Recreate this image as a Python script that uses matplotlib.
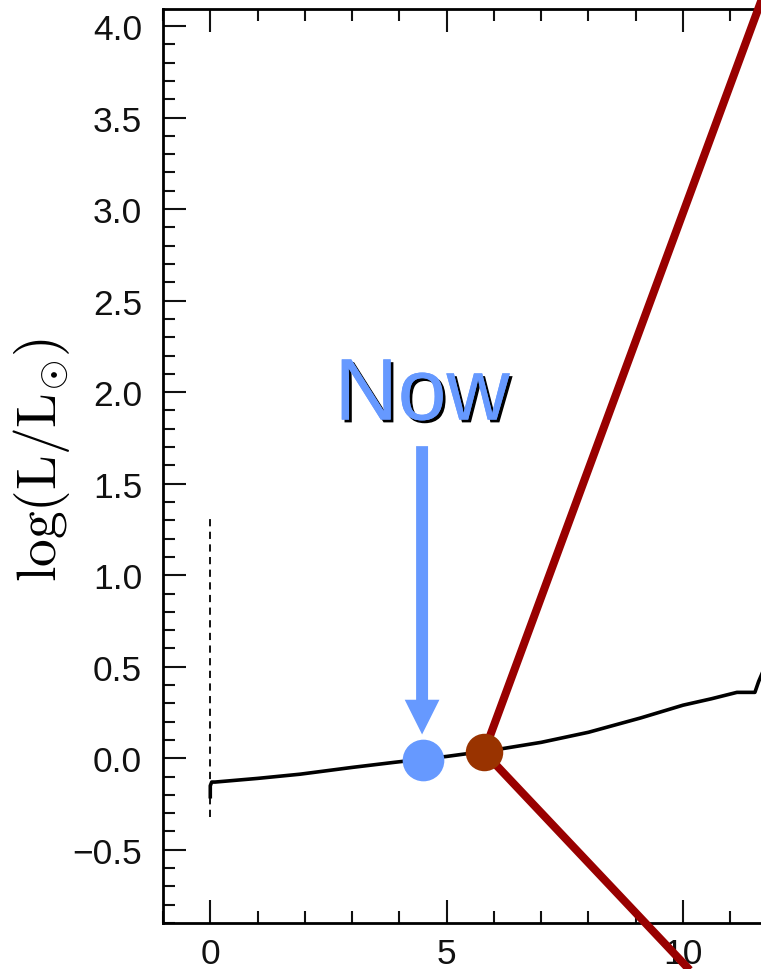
import matplotlib
matplotlib.use("Agg")
import matplotlib.pyplot as plt
import matplotlib.patheffects as pe
from matplotlib.ticker import MultipleLocator

# solar luminosity track (time in Gyr, log L/Lsun)
track_t = [0.0, 0.0, 0.03, 0.1, 1.0, 1.9, 3.0, 3.9, 5.0, 6.0, 7.0, 8.0,
           9.1, 10.0, 10.6, 11.14, 11.52, 11.6, 11.7]
track_L = [-0.21, -0.15, -0.13, -0.13, -0.11, -0.087, -0.05, -0.022, 0.01,
           0.045, 0.087, 0.142, 0.22, 0.29, 0.325, 0.36, 0.36, 0.42, 0.48]

# zero-age marker (dashed)
zams_t = [0.0, 0.0]
zams_L = [-0.32, 1.31]

now_t, now_L = 4.5, -0.01
now_arrow_top = 1.705
now_arrow_tip = 0.13

branch_t, branch_L = 5.79, 0.033
upper_t = [5.79, 11.9]
upper_L = [0.033, 4.31]
lower_t = [5.79, 10.3]
lower_L = [0.033, -1.2]

blue = "#6699ff"
red = "#990000"
brown = "#993300"

plt.rcParams['font.family'] = ['Liberation Sans', 'DejaVu Sans']
plt.rcParams['mathtext.fontset'] = 'cm'

fig = plt.figure(figsize=(7.61, 9.70), dpi=100)
ax = fig.add_axes([0.2142, 0.0474, 0.8076, 0.9423])

ax.plot(track_t, track_L, color='black', lw=2.6, zorder=2)
ax.plot(zams_t, zams_L, color='black', lw=1.3, dashes=(4, 3), zorder=2)

ax.plot(upper_t, upper_L, color=red, lw=5.8, clip_on=False, zorder=3,
        solid_capstyle='butt')
ax.plot(lower_t, lower_L, color=red, lw=5.8, clip_on=False, zorder=3,
        solid_capstyle='butt')
ax.plot([branch_t], [branch_L], 'o', color=brown, ms=27, mec='none', zorder=4)

ax.plot([now_t], [now_L], 'o', color=blue, ms=30, mec='none', zorder=4)
ax.annotate('', xy=(now_t - 0.02, now_arrow_tip), xytext=(now_t - 0.02, now_arrow_top),
            arrowprops=dict(arrowstyle='simple,head_length=1.25,head_width=1.25,tail_width=0.43',
                            mutation_scale=20, color=blue, shrinkA=0, shrinkB=0, lw=0))
ax.text(now_t - 0.02, 1.85, 'Now', color=blue, fontsize=63, ha='center', va='baseline',
        family='Liberation Sans', zorder=5,
        path_effects=[pe.withSimplePatchShadow(offset=(2, -2), shadow_rgbFace='black', alpha=1),
                      pe.Normal()])

ax.xaxis.set_major_locator(MultipleLocator(5))
ax.xaxis.set_minor_locator(MultipleLocator(1))
ax.yaxis.set_major_locator(MultipleLocator(0.5))
ax.yaxis.set_minor_locator(MultipleLocator(0.1))
ax.tick_params(which='both', direction='in', top=True, right=False, width=1.5,
               colors='#111111', labelsize=25.5)
ax.tick_params(axis='y', pad=15)
ax.tick_params(axis='x', pad=10)
ax.tick_params(which='major', length=16.5)
ax.tick_params(which='minor', length=8.5)
for s in ax.spines.values():
    s.set_linewidth(2)
ax.spines['right'].set_visible(False)
ax.set_yticks([-0.5, 0, 0.5, 1.0, 1.5, 2.0, 2.5, 3.0, 3.5, 4.0])
ax.set_yticklabels(['\u22120.5', '0.0', '0.5', '1.0', '1.5', '2.0', '2.5', '3.0', '3.5', '4.0'])
ax.set_xticks([0, 5, 10])
ax.set_xticklabels(['0', '5', '10'])
ax.set_xlim(-1, 12)
ax.set_ylim(-0.9, 4.093)

fig.text(42 / 761, 1 - 460 / 970, r'$\log(\mathrm{L}/\mathrm{L}_{\odot})$', fontsize=40,
         rotation=90, ha='center', va='center')

fig.savefig('out.png', dpi=100)
